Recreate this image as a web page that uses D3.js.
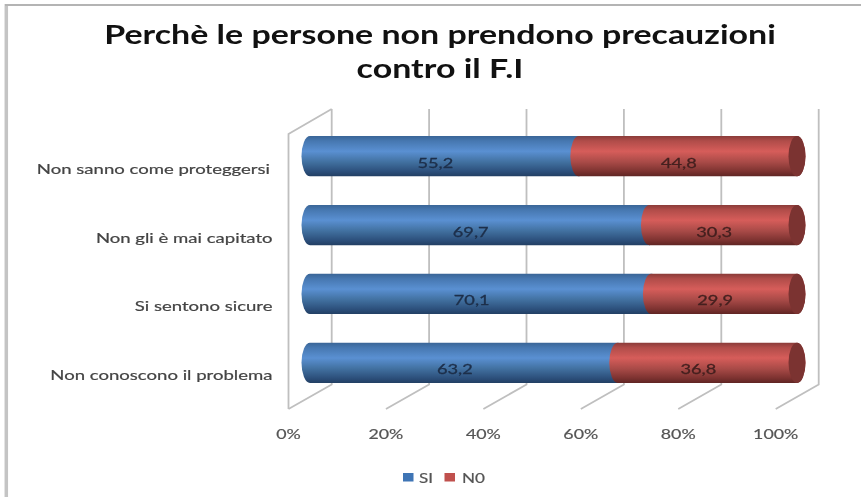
<!DOCTYPE html>
<html>
<head>
<meta charset="utf-8">
<script src="https://cdn.jsdelivr.net/npm/d3@7"></script>
<style>
html, body { margin: 0; padding: 0; background: #fff; }
svg { display: block; filter: blur(0.55px); }
text { font-family: Lato, "Open Sans", sans-serif; }
</style>
</head>
<body>
<div id="chart"></div>
<script>
var categories = ["Non sanno come proteggersi", "Non gli è mai capitato", "Si sentono sicure", "Non conoscono il problema"];
var si = [55.2, 69.7, 70.1, 63.2];
var no = [44.8, 30.3, 29.9, 36.8];
var valueLabelsSi = ["55,2", "69,7", "70,1", "63,2"];
var valueLabelsNo = ["44,8", "30,3", "29,9", "36,8"];
var ticks = [0, 20, 40, 60, 80, 100];
var titleLines = ["Perchè le persone non prendono precauzioni", "contro il F.I"];
var legendItems = ["SI", "N0"];

// the reference is a horizontally stretched screenshot, so text gets widened too
function stretch(sel, k) {
    sel.attr("lengthAdjust", "spacingAndGlyphs")
        .attr("textLength", function() { return this.getComputedTextLength() * k; });
}

function init() {
    var w = 861, h = 497;
    var svg = d3.select("#chart").append("svg")
        .attr("width", w)
        .attr("height", h)
        .attr("viewBox", [0, 0, w, h]);

    var defs = svg.append("defs");

    function cylinder(id, stops) {
        var g = defs.append("linearGradient").attr("id", id)
            .attr("x1", 0).attr("y1", 0).attr("x2", 0).attr("y2", 1);
        stops.forEach(s => g.append("stop").attr("offset", s[0]).attr("stop-color", s[1]));
    }
    cylinder("blue", [[0, "#3a6596"], [0.12, "#4677b0"], [0.38, "#5a90d2"], [0.65, "#41709f"], [0.88, "#2c4f7b"], [1, "#223f63"]]);
    cylinder("red", [[0, "#8a3b39"], [0.12, "#b04c49"], [0.38, "#d65d5a"], [0.65, "#a84a47"], [0.88, "#7c3230"], [1, "#5f2523"]]);

    // outer frame
    svg.append("line")
        .attr("x1", 6.3).attr("x2", 6.3).attr("y1", 4).attr("y2", h)
        .attr("stroke", "#c4c4c4")
        .attr("stroke-width", 3.5);
    svg.append("line")
        .attr("x1", 5).attr("x2", w).attr("y1", 5).attr("y2", 5)
        .attr("stroke", "#b4b4b4")
        .attr("stroke-width", 1.8);

    // title
    svg.append("g").selectAll("text")
        .data(titleLines)
        .enter()
        .append("text")
        .attr("x", 440)
        .attr("y", (d, i) => 43.5 + i * 34)
        .attr("text-anchor", "middle")
        .attr("font-size", 26)
        .attr("font-weight", 700)
        .attr("fill", "#111")
        .text(d => d)
        .call(stretch, 1.306);

    // three scales: back wall, front floor edge and the bars themselves
    var xBack = d3.scaleLinear().domain([0, 100]).range([331.7, 818.7]);
    var xFront = d3.scaleLinear().domain([0, 100]).range([288.5, 775.7]);
    var xBar = d3.scaleLinear().domain([0, 100]).range([310, 797]);
    var y = d3.scaleBand().domain(categories).range([136, 383]).paddingInner(0.415).paddingOuter(0);

    var wallTop = 109, wallBottom = 384.5, frontBottom = 409, frontTop = 134;

    // gridlines and floor lines
    var grid = svg.append("g").attr("fill", "none").attr("stroke", "#bfbfbf").attr("stroke-width", 1.8);
    grid.selectAll("path.wall")
        .data(ticks)
        .enter()
        .append("path")
        .attr("class", "wall")
        .attr("d", d => `M${xBack(d)},${wallTop} V${wallBottom} L${xFront(d)},${frontBottom}`);
    grid.append("path")
        .attr("d", `M${xBack(0)},${wallTop} L${xFront(0)},${frontTop} V${frontBottom}`);

    // bars, blue body first, then red over it with its own rounded left end
    var rx = 8.5;
    var bars = svg.append("g").selectAll("g")
        .data(categories)
        .enter()
        .append("g");

    function capsule(x0, x1, top, bh) {
        var ry = bh / 2;
        return `M${x0},${top} H${x1} A${rx},${ry} 0 0 1 ${x1},${top + bh} H${x0} A${rx},${ry} 0 0 1 ${x0},${top} Z`;
    }

    bars.append("path")
        .attr("d", (d, i) => capsule(xBar(0), xBar(si[i]), y(d), y.bandwidth()))
        .attr("fill", "url(#blue)");
    bars.append("path")
        .attr("d", (d, i) => capsule(xBar(si[i]), xBar(si[i] + no[i]), y(d), y.bandwidth()))
        .attr("fill", "url(#red)");
    bars.append("ellipse")
        .attr("cx", (d, i) => xBar(si[i] + no[i]))
        .attr("cy", d => y(d) + y.bandwidth() / 2)
        .attr("rx", rx)
        .attr("ry", y.bandwidth() / 2)
        .attr("fill", "#7b3331");

    // value labels
    bars.append("text")
        .attr("x", (d, i) => xBar(si[i] / 2) - 9)
        .attr("y", d => y(d) + y.bandwidth() / 2 + 11.5)
        .attr("text-anchor", "middle")
        .attr("font-size", 14)
        .attr("fill", "#1d2f4a")
        .attr("stroke", "#1d2f4a")
        .attr("stroke-width", 0.3)
        .text((d, i) => valueLabelsSi[i])
        .call(stretch, 1.3);
    bars.append("text")
        .attr("x", (d, i) => xBar(si[i] + no[i] / 2) - 9)
        .attr("y", d => y(d) + y.bandwidth() / 2 + 11.5)
        .attr("text-anchor", "middle")
        .attr("font-size", 14)
        .attr("fill", "#45201f")
        .attr("stroke", "#45201f")
        .attr("stroke-width", 0.3)
        .text((d, i) => valueLabelsNo[i])
        .call(stretch, 1.3);

    // category labels
    svg.append("g").selectAll("text")
        .data(categories)
        .enter()
        .append("text")
        .attr("x", (d, i) => i === 0 ? 270 : 272.5)
        .attr("y", d => y(d) + y.bandwidth() / 2 + 17.5)
        .attr("text-anchor", "end")
        .attr("font-size", 13.5)
        .attr("fill", "#444")
        .attr("stroke", "#444")
        .attr("stroke-width", 0.2)
        .text(d => d)
        .call(stretch, 1.373);

    // percent tick labels
    svg.append("g").selectAll("text")
        .data(ticks)
        .enter()
        .append("text")
        .attr("x", d => xFront(d))
        .attr("y", 439)
        .attr("text-anchor", "middle")
        .attr("font-size", 14)
        .attr("fill", "#555")
        .attr("stroke", "#555")
        .attr("stroke-width", 0.2)
        .text(d => d + "%")
        .call(stretch, 1.27);

    // legend
    var legendX = [403, 444.5];
    var legendColor = ["#3f75b5", "#c0504d"];
    var legend = svg.append("g").selectAll("g")
        .data(legendItems)
        .enter()
        .append("g")
        .attr("transform", (d, i) => `translate(${legendX[i]},473)`);
    legend.append("rect")
        .attr("width", 10.5)
        .attr("height", 8.5)
        .attr("fill", (d, i) => legendColor[i]);
    legend.append("text")
        .attr("x", (d, i) => i === 0 ? 16 : 17.5)
        .attr("y", 9.5)
        .attr("font-size", 14)
        .attr("fill", "#555")
        .attr("stroke", "#555")
        .attr("stroke-width", 0.2)
        .text(d => d)
        .call(stretch, 1.22);
}

window.onload = init;
</script>
</body>
</html>
